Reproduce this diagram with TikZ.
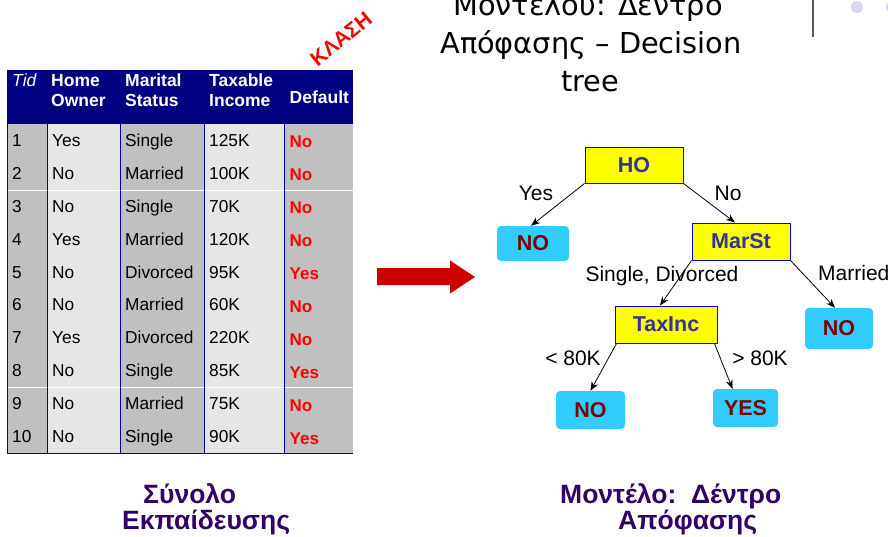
\documentclass[tikz,border=0pt]{standalone}
\usepackage{fontspec}
\setmainfont{Liberation Sans}
\newfontfamily\titlefont{DejaVu Sans}
\usetikzlibrary{arrows.meta}
\definecolor{hdr}{HTML}{000080}
\definecolor{gridblue}{HTML}{000099}
\definecolor{cdark}{HTML}{C0C0C0}
\definecolor{clight}{HTML}{E6E6E6}
\definecolor{classred}{HTML}{FF0000}
\definecolor{boxyellow}{HTML}{FFFF00}
\definecolor{boxblue}{HTML}{0000FF}
\definecolor{intext}{HTML}{333399}
\definecolor{leafcyan}{HTML}{33CCFF}
\definecolor{leaftext}{HTML}{800000}
\definecolor{bigarrow}{HTML}{CC0000}
\definecolor{caption}{HTML}{330066}
\definecolor{dotcol}{HTML}{D8D8EE}
\begin{document}
\begin{tikzpicture}[x=1pt,y=-1pt,
  cell/.style={anchor=base west,inner sep=0pt,font=\fontsize{17.3}{20}\selectfont},
  clscell/.style={anchor=base west,inner sep=0pt,font=\fontsize{17}{20}\selectfont\bfseries,text=classred},
  hcell/.style={anchor=base west,inner sep=0pt,align=left,text=white,font=\fontsize{17.5}{20}\selectfont\bfseries},
  inner/.style={draw=boxblue,line width=1pt,fill=boxyellow,text=intext,font=\fontsize{21.5}{24}\selectfont\bfseries,inner sep=0pt},
  leaf/.style={fill=leafcyan,rounded corners=4pt,text=leaftext,font=\fontsize{21.5}{24}\selectfont\bfseries,inner sep=0pt},
  elabel/.style={inner sep=0pt,font=\fontsize{21}{24}\selectfont},
  edge/.style={-{Stealth[length=9pt,width=7pt]},line width=0.8pt},
  captext/.style={anchor=base west,inner sep=0pt,text=caption,font=\fontsize{26.5}{30}\selectfont\bfseries},
  ttl/.style={anchor=base,inner sep=0pt,font=\titlefont\fontsize{28.8}{32}\selectfont}
]
\useasboundingbox (0,0) rectangle (888,536);
\fill[white] (0,0) rectangle (888,536);

% ---------- table ----------
\fill[hdr] (7,70) rectangle (353,124);
\fill[cdark]  (7,124)   rectangle (47,453);
\fill[clight] (47,124)  rectangle (120,453);
\fill[cdark]  (120,124) rectangle (204,453);
\fill[clight] (204,124) rectangle (284,453);
\fill[cdark]  (284,124) rectangle (353,453);
\draw[white,line width=0.4pt] (7,190.6) -- (353,190.6);
\draw[white,line width=0.4pt] (7,387.2) -- (353,387.2);
\foreach \x in {47,120,204,284}
  \draw[gridblue,line width=1pt] (\x,124) -- (\x,453);
\draw[gridblue,line width=1pt] (7,124) -- (7,453) -- (353,453);

\node[hcell,font=\fontsize{17.5}{20}\selectfont\itshape] (hTid) at (12,86.5) {Tid};
\node[hcell] (hHome) at (51,106.5) {Home\\Owner};
\node[hcell] (hMar) at (125,106.5) {Marital\\Status};
\node[hcell] (hTax) at (209,106.5) {Taxable\\Income};
\node[hcell] (hDef) at (289.5,103.5) {Default};

\foreach \i/\h/\m/\t/\d in {1/Yes/Single/125K/No,2/No/Married/100K/No,3/No/Single/70K/No,4/Yes/Married/120K/No,5/No/Divorced/95K/Yes,6/No/Married/60K/No,7/Yes/Divorced/220K/No,8/No/Single/85K/Yes,9/No/Married/75K/No,10/No/Single/90K/Yes}{
  \pgfmathsetmacro{\yy}{124+32.9*(\i-0.5)+6}
  \pgfmathsetmacro{\yd}{\yy+1.5}
  \node[cell] (tid\i) at (12,\yy) {\i};
  \node[cell] (ho\i) at (52,\yy) {\h};
  \node[cell] (ms\i) at (125,\yy) {\m};
  \node[cell] (ti\i) at (209,\yy) {\t};
  \node[clscell] (df\i) at (289.5,\yd) {\d};
}

\node[text=classred,font=\fontsize{21}{24}\selectfont\bfseries,rotate=39,inner sep=0pt] (klasi) at (341,39) {ΚΛΑΣΗ};

% ---------- big arrow ----------
\fill[bigarrow] (377,268) -- (450,268) -- (450,260.5) -- (475,277) -- (450,293.5) -- (450,285) -- (377,285) -- cycle;

% ---------- title ----------
\node[ttl] (t1) at (588,15) {Μοντέλου: Δέντρο};
\node[ttl] (t2) at (591,53.5) {Απόφασης – Decision};
\node[ttl] (t3) at (590,91) {tree};

% ---------- top right ----------
\draw[black!65,line width=1.2pt] (813,0) -- (813,37);
\fill[dotcol] (857,7) circle (6);
\fill[dotcol] (892,7) circle (6);

% ---------- tree ----------
\node[inner,minimum width=98pt,minimum height=36pt] (HO) at (634,165) {HO};
\node[leaf,minimum width=72pt,minimum height=35pt] (NO1) at (533,243.5) {NO};
\node[inner,minimum width=98pt,minimum height=37pt] (MS) at (741,241.5) {MarSt};
\node[leaf,minimum width=68pt,minimum height=41pt] (NO2) at (839,328.5) {NO};
\node[inner,minimum width=102pt,minimum height=37pt] (TI) at (666,324.5) {TaxInc};
\node[leaf,minimum width=69pt,minimum height=38pt] (NO3) at (590.5,410) {NO};
\node[leaf,minimum width=65pt,minimum height=38pt] (YES) at (745.5,408) {YES};

\draw[edge] (HO.south west) -- ([xshift=-2pt]NO1.north);
\draw[edge] (HO.south east) -- ([xshift=-6pt]MS.north);
\draw[edge] (MS.south west) -- ([xshift=-6pt]TI.north);
\draw[edge] (MS.south east) -- ([xshift=-4pt]NO2.north);
\draw[edge] ([xshift=2pt]TI.south west) -- (NO3.north);
\draw[edge] ([xshift=-3pt]TI.south east) -- ([xshift=-13pt]YES.north);

\node[elabel] (lYes) at (536,193) {Yes};
\node[elabel] (lNo) at (728,193) {No};
\node[elabel] (lSD) at (662,276) {Single, Divorced};
\node[elabel,anchor=west] (lMar) at (818,273) {Married};
\node[elabel] (lLt) at (573,358) {< 80K};
\node[elabel] (lGt) at (760,358) {> 80K};

% ---------- captions ----------
\node[captext] (c1) at (143,503) {Σύνολο};
\node[captext] (c2) at (122,529) {Εκπαίδευσης};
\node[captext] (c3) at (560,503) {Μοντέλο:\ \ Δέντρο};
\node[captext] (c4) at (618,529) {Απόφασης};
\end{tikzpicture}
\end{document}
